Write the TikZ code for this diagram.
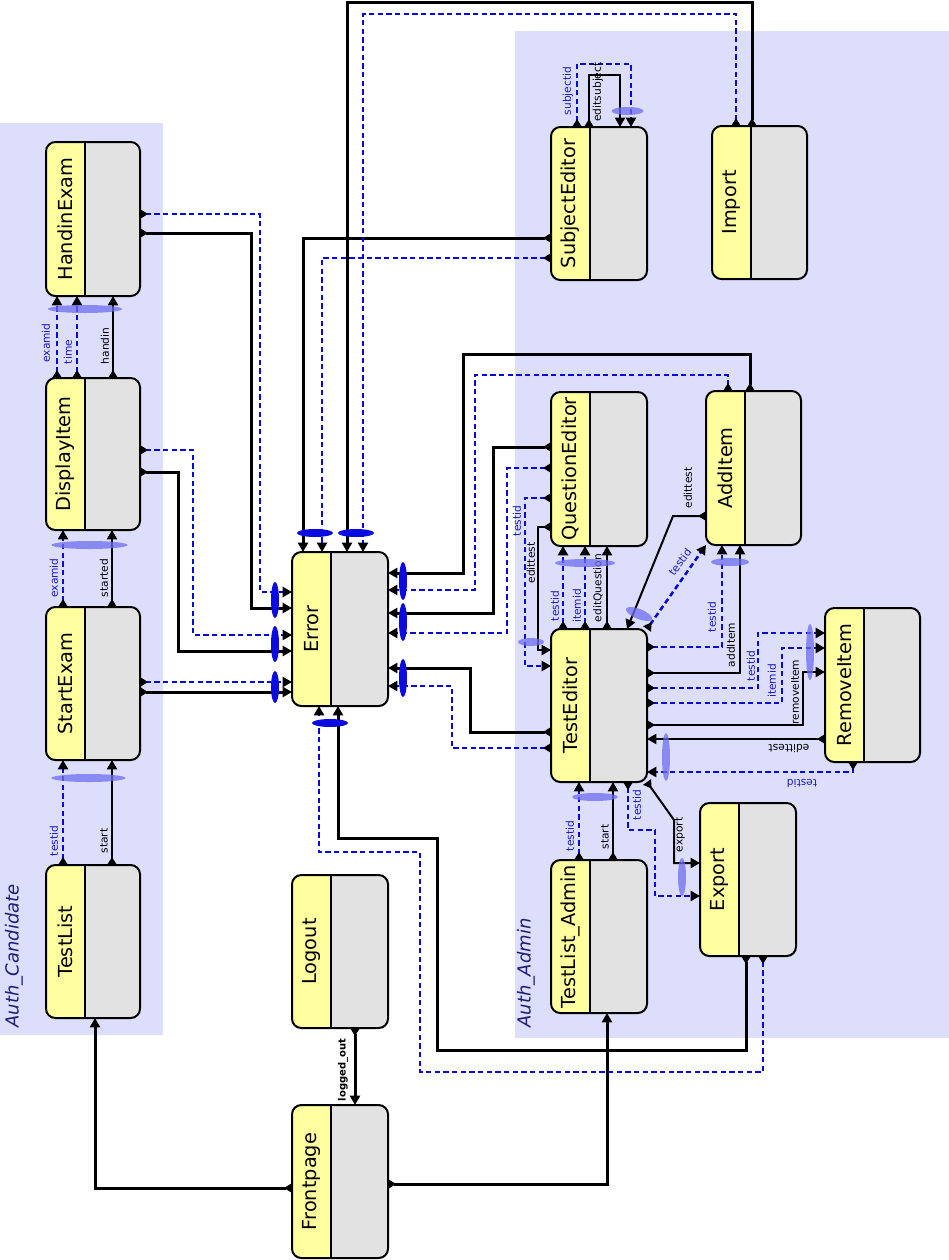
\documentclass[tikz,border=0pt]{standalone}
\usepackage{fontspec}
\setmainfont{DejaVu Sans}
\usetikzlibrary{arrows.meta,fit,calc}
\definecolor{grp}{RGB}{221,221,252}
\definecolor{uyel}{RGB}{255,255,160}
\definecolor{ugray}{RGB}{226,226,226}
\definecolor{dblue}{RGB}{10,10,215}
\definecolor{lblue}{RGB}{25,25,200}
\definecolor{barc}{RGB}{110,110,240}
\definecolor{sbarc}{RGB}{10,10,225}
\definecolor{gtext}{RGB}{30,30,115}
\newcommand{\ubox}[6]{%
  \coordinate (#1-nw) at (#2,#3);
  \coordinate (#1-se) at (#4,#5);
  \node[ubody, fit=(#1-nw)(#1-se)] (#1) {};
  \begin{scope}
    \clip[rounded corners=7pt] (#2,#3) rectangle (#4,#5);
    \fill[uyel] (#2,#3) rectangle ({#2+39},#5);
  \end{scope}
  \draw[ubord] (#2,#3) rectangle (#4,#5);
  \draw[line width=1pt] ({#2+39},#3) -- ({#2+39},#5);
  \node[ulabel] (#1-t) at ({#2+19.5},{(#3+#5)/2}) {#6};
}
\begin{document}
\begin{tikzpicture}[x=0.75pt,y=-0.75pt,
  ubody/.style={rectangle, inner sep=0pt, outer sep=0pt, fill=ugray, rounded corners=7pt},
  ubord/.style={draw=black, line width=1.5pt, rounded corners=7pt},
  ulabel/.style={rotate=90, inner sep=0pt, font=\fontsize{14.5}{16}\selectfont},
  lnS/.style={line width=1.5pt, {Triangle[reversed,length=6pt,width=7pt,color=black]}-{Triangle[length=7pt,width=7.5pt,color=black]}},
  lnT/.style={lnS, line width=2.25pt},
  lnD/.style={lnS, draw=dblue, line width=1.9pt, dash pattern=on 4pt off 2.5pt},
  lb/.style={rotate=90, inner sep=0pt, font=\fontsize{8}{9}\selectfont},
  lbl/.style={lb, text=lblue},
  lbar/.style={fill=barc, opacity=0.75},
  sbar/.style={fill=sbarc},
  glabel/.style={rotate=90, inner sep=0pt, text=gtext, font=\fontsize{13.5}{15}\selectfont\itshape},
]
\useasboundingbox (0,0) rectangle (949,1260);
% groups
\fill[grp] (0,123) rectangle (163,1035);
\fill[grp] (515,31) rectangle (949,1038);
\node[glabel] (gcand) at (14,956) {Auth\_Candidate};
\node[glabel] (gadm) at (526,973) {Auth\_Admin};
% boxes
\ubox{hand}{46}{142}{140}{296}{HandinExam}
\ubox{disp}{46}{378}{140}{530}{DisplayItem}
\ubox{sexam}{46}{607}{140}{760}{StartExam}
\ubox{tlist}{46}{865}{140}{1018}{TestList}
\ubox{err}{292}{552}{388}{706}{Error}
\ubox{logout}{292}{875}{388}{1028}{Logout}
\ubox{front}{292}{1105}{388}{1258}{Frontpage}
\ubox{subj}{551}{127}{647}{280}{SubjectEditor}
\ubox{imp}{712}{126}{807}{279}{Import}
\ubox{qe}{551}{392}{647}{546}{QuestionEditor}
\ubox{add}{706}{391}{801}{545}{AddItem}
\ubox{te}{551}{629}{647}{782}{TestEditor}
\ubox{rem}{825}{608}{920}{762}{RemoveItem}
\ubox{tla}{551}{860}{647}{1013}{TestList\_Admin}
\ubox{exp}{700}{803}{796}{956}{Export}
% candidate chain
\draw[lnD] (tlist.north -| 63,0) -- (sexam.south -| 63,0);
\draw[lnS] (tlist.north -| 112,0) -- (sexam.south -| 112,0);
\draw[lnD] (sexam.north -| 63,0) -- (disp.south -| 63,0);
\draw[lnS] (sexam.north -| 112,0) -- (disp.south -| 112,0);
\draw[lnD] (disp.north -| 57,0) -- (hand.south -| 57,0);
\draw[lnD] (disp.north -| 77,0) -- (hand.south -| 77,0);
\draw[lnS] (disp.north -| 113,0) -- (hand.south -| 113,0);
\node[lbl] (l1) at (54,841) {testid};
\node[lb] (l2) at (104,841) {start};
\node[lbl] (l3) at (54,578) {examid};
\node[lb] (l4) at (104,578) {started};
\node[lbl] (l5) at (46,343) {examid};
\node[lbl] (l6) at (68,352) {time};
\node[lb] (l7) at (105,346) {handin};
% frontpage / logout
\draw[lnT] (front.west |- 0,1188) -- (95,1188) -- (tlist.south -| 95,0);
\draw[lnT] (front.east |- 0,1184) -- (607,1184) -- (tla.south -| 607,0);
\draw[lnT] (logout.south -| 355,0) -- (front.north -| 355,0);
\node[lb, font=\fontsize{7.5}{9}\selectfont\bfseries] (l8) at (343,1070) {logged\_out};
% into Error, left
\draw[lnD] (hand.east |- 0,214) -- (260,214) -- (260,592) -- (err.west |- 0,592);
\draw[lnT] (hand.east |- 0,233) -- (251,233) -- (251,608) -- (err.west |- 0,608);
\draw[lnD] (disp.east |- 0,450) -- (193,450) -- (193,635) -- (err.west |- 0,635);
\draw[lnT] (disp.east |- 0,472) -- (178,472) -- (178,651) -- (err.west |- 0,651);
\draw[lnD] (sexam.east |- 0,682) -- (err.west |- 0,682);
\draw[lnT] (sexam.east |- 0,692) -- (err.west |- 0,692);
% into Error, top
\draw[lnT] (subj.west |- 0,238) -- (303,238) -- (err.north -| 303,0);
\draw[lnD] (subj.west |- 0,258) -- (322,258) -- (err.north -| 322,0);
\draw[lnT] (imp.north -| 752,0) -- (752,2) -- (347,2) -- (err.north -| 347,0);
\draw[lnD] (imp.north -| 736,0) -- (736,14) -- (363,14) -- (err.north -| 363,0);
% into Error, right
\draw[lnT] (add.north -| 750,0) -- (750,354) -- (463,354) -- (463,573) -- (err.east |- 0,573);
\draw[lnD] (add.north -| 728,0) -- (728,375) -- (475,375) -- (475,590) -- (err.east |- 0,590);
\draw[lnT] (qe.west |- 0,447) -- (493,447) -- (493,613) -- (err.east |- 0,613);
\draw[lnD] (qe.west |- 0,468) -- (507,468) -- (507,633) -- (err.east |- 0,633);
\draw[lnT] (te.west |- 0,732) -- (470,732) -- (470,668) -- (err.east |- 0,668);
\draw[lnD] (te.west |- 0,748) -- (452,748) -- (452,686) -- (err.east |- 0,686);
% into Error, bottom
\draw[lnT] (exp.south -| 746,0) -- (746,1050) -- (437,1050) -- (437,838) -- (338,838) -- (err.south -| 338,0);
\draw[lnD] (exp.south -| 763,0) -- (763,1072) -- (420,1072) -- (420,852) -- (319,852) -- (err.south -| 319,0);
% SubjectEditor loop
\draw[lnD] (subj.north -| 577,0) -- (577,64) -- (631,64) -- (subj.north -| 631,0);
\draw[lnS] (subj.north -| 589,0) -- (589,75) -- (620,75) -- (subj.north -| 620,0);
\node[lbl] (l9) at (568,91) {subjectid};
\node[lb] (l10) at (598,92) {editsubject};
% QuestionEditor <-> TestEditor
\draw[lnD] (qe.west |- 0,498) -- (525,498) -- (525,666) -- (te.west |- 0,666);
\draw[lnS] (qe.west |- 0,527) -- (538,527) -- (538,650) -- (te.west |- 0,650);
\node[lbl] (l11) at (517,521) {testid};
\node[lb] (l12) at (531,563) {edittest};
\draw[lnD] (te.north -| 563,0) -- (qe.south -| 563,0);
\draw[lnD] (te.north -| 585,0) -- (qe.south -| 585,0);
\draw[lnS] (te.north -| 607,0) -- (qe.south -| 607,0);
\node[lbl] (l13) at (555,606) {testid};
\node[lbl] (l14) at (577,606) {itemid};
\node[lb] (l15) at (598,588) {editQuestion};
% AddItem <-> TestEditor
\draw[lnS] (add.west |- 0,516) -- (673,516) -- (te.north -| 627,0);
\draw[lnD] (te.north east) -- (add.south west);
\node[lb] (l16) at (688,488) {edittest};
\node[lbl, rotate=-37] (l17) at (680,562) {testid};
\draw[lnD] (te.east |- 0,647) -- (722,647) -- (add.south -| 722,0);
\draw[lnS] (te.east |- 0,673) -- (740,673) -- (add.south -| 740,0);
\node[lbl] (l18) at (712,617) {testid};
\node[lb] (l19) at (731,645) {addItem};
% TestEditor <-> RemoveItem
\draw[lnD] (te.east |- 0,688) -- (758,688) -- (758,633) -- (rem.west |- 0,633);
\draw[lnD] (te.east |- 0,703) -- (782,703) -- (782,648) -- (rem.west |- 0,648);
\draw[lnS] (te.east |- 0,725) -- (803,725) -- (803,672) -- (rem.west |- 0,672);
\node[lbl] (l20) at (751,666) {testid};
\node[lbl] (l21) at (772,681) {itemid};
\node[lb] (l22) at (795,692) {removeItem};
\draw[lnS] (rem.west |- 0,739) -- (te.east |- 0,739);
\draw[lnD] (rem.south -| 853,0) -- (853,772) -- (te.east |- 0,772);
\node[lb, rotate=90] (l23) at (789,748) {edittest};
\node[lbl, rotate=90] (l24) at (802,783) {testid};
% TestList_Admin -> TestEditor
\draw[lnD] (tla.north -| 579,0) -- (te.south -| 579,0);
\draw[lnS] (tla.north -| 613,0) -- (te.south -| 613,0);
\node[lbl] (l25) at (570,836) {testid};
\node[lb] (l26) at (605,837) {start};
% TestEditor -> Export
\draw[lnD] (te.south -| 628,0) -- (628,830) -- (655,830) -- (655,896) -- (exp.west |- 0,896);
\draw[lnS] (te.south east) -- (674,820) -- (674,863) -- (exp.west |- 0,863);
\node[lbl] (l27) at (637,805) {testid};
\node[lb] (l28) at (680,835) {export};
% light bars
\fill[lbar] (88.5,778) ellipse [x radius=37, y radius=4];
\fill[lbar] (89.5,545) ellipse [x radius=38, y radius=4];
\fill[lbar] (85,309) ellipse [x radius=37, y radius=4];
\fill[lbar] (585,563) ellipse [x radius=30, y radius=4];
\fill[lbar] (730,562) ellipse [x radius=19, y radius=4];
\fill[lbar] (531,642) ellipse [x radius=13, y radius=4];
\fill[lbar] (627.5,111) ellipse [x radius=16, y radius=4];
\fill[lbar] (810,652) ellipse [x radius=4, y radius=28];
\fill[lbar] (666,757) ellipse [x radius=4, y radius=24];
\fill[lbar] (595,797) ellipse [x radius=23, y radius=4];
\fill[lbar] (682,877) ellipse [x radius=4, y radius=19];
\fill[lbar, rotate around={-22:(639,614)}] (639,614) ellipse [x radius=14, y radius=5];
% strong bars at Error
\fill[sbar] (275,600) ellipse [x radius=4, y radius=18];
\fill[sbar] (275,644) ellipse [x radius=4, y radius=18];
\fill[sbar] (275,687) ellipse [x radius=4, y radius=16];
\fill[sbar] (403,581) ellipse [x radius=4, y radius=19];
\fill[sbar] (403,622) ellipse [x radius=4, y radius=19];
\fill[sbar] (403,678) ellipse [x radius=4, y radius=19];
\fill[sbar] (315,533) ellipse [x radius=18, y radius=4];
\fill[sbar] (356,533) ellipse [x radius=18, y radius=4];
\fill[sbar] (330,723) ellipse [x radius=18, y radius=4];
\end{tikzpicture}
\end{document}
